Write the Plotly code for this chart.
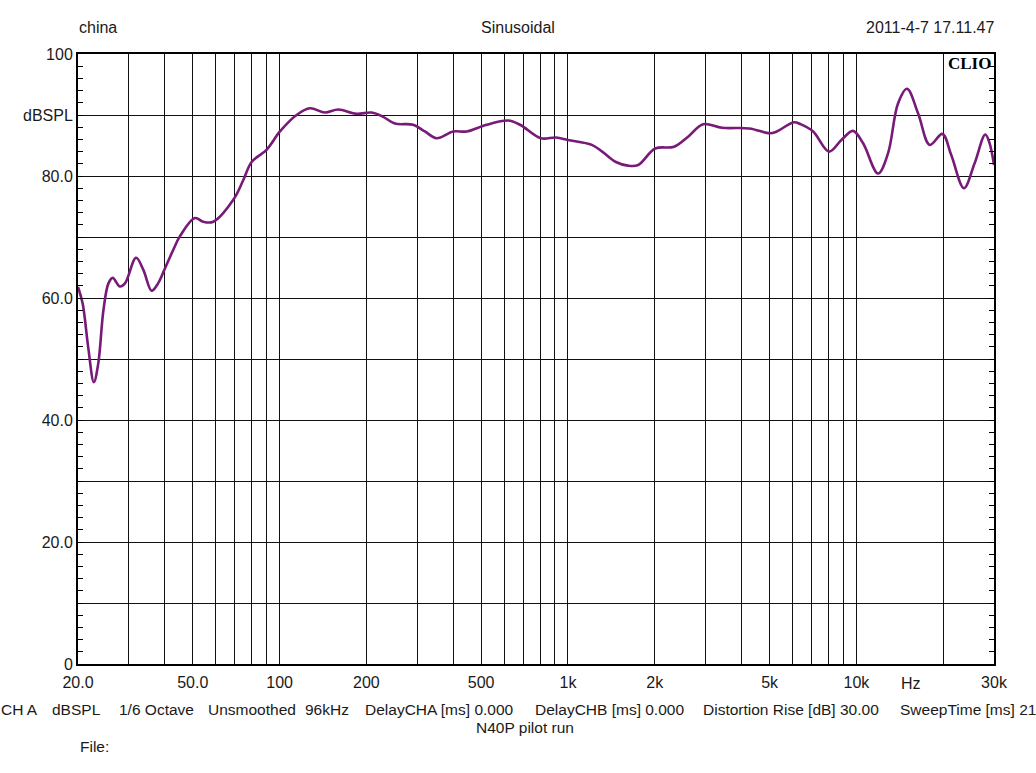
import numpy as np
import plotly.graph_objects as go

# ---- data ----
freq_hz = [20, 20.76, 21.7, 22.7, 23.5, 24.5, 25.5, 26.4, 27.9, 29.1, 31.8, 33.7, 36.0, 37.9,
           40, 42.8, 45.1, 50.9, 54.4, 58.9, 69.1, 74.8, 80.0, 90.1, 100.3, 114.5, 127.4,
           143.6, 159.7, 184.9, 208.5, 228.7, 251, 290.5, 319, 350, 400, 445, 522, 620,
           682, 804, 909, 1000, 1210, 1314, 1466, 1614, 1751, 2006, 2332, 2602, 2941,
           3421, 4256, 5012, 5297, 6070, 6400, 7080, 8040, 8870, 9730, 10540, 11890,
           12870, 13940, 14980, 16360, 17970, 19870, 21340, 23600, 25700, 27980, 28950, 30000]
spl_db = [61.8, 59.1, 51.9, 46.2, 49.2, 58.0, 62.4, 63.3, 61.9, 62.4, 66.6, 64.6, 61.2, 62.4,
          64.8, 67.9, 70.1, 73.1, 72.5, 72.5, 76.1, 79.3, 82.3, 84.3, 87.3, 90.0, 91.1,
          90.4, 90.9, 90.2, 90.4, 89.7, 88.6, 88.4, 87.3, 86.2, 87.3, 87.3, 88.4, 89.1,
          88.4, 86.2, 86.3, 85.9, 85.1, 84.0, 82.3, 81.7, 81.8, 84.5, 84.8, 86.4, 88.5,
          87.9, 87.8, 87.0, 87.3, 88.8, 88.5, 87.3, 84.0, 85.9, 87.4, 85.4, 80.4,
          83.7, 91.9, 94.3, 90.3, 85.1, 86.9, 83.4, 78.0, 82.1, 86.8, 85.4, 81.8]

x_grid = [20, 30, 40, 50, 60, 70, 80, 90, 100, 200, 300, 400, 500, 600, 700, 800, 900,
          1000, 2000, 3000, 4000, 5000, 6000, 7000, 8000, 9000, 10000, 20000, 30000]
x_labels = {20: "20.0", 50: "50.0", 100: "100", 200: "200", 500: "500", 1000: "1k",
            2000: "2k", 5000: "5k", 10000: "10k", 30000: "30k"}
y_grid = [0, 10, 20, 30, 40, 50, 60, 70, 80, 90, 100]
y_labels = {0: "0", 20: "20.0", 40: "40.0", 60: "60.0", 80: "80.0", 90: "dBSPL", 100: "100"}

info_items = ["CH A", "dBSPL", "1/6 Octave", "Unsmoothed", "96kHz", "DelayCHA [ms] 0.000",
              "DelayCHB [ms] 0.000", "Distortion Rise [dB] 30.00", "SweepTime [ms] 21"]
info_left_px = [-1, 50, 117, 206, 303, 363, 533, 701, 898]

# ---- layout geometry ----
W, H = 1036, 773
L, R, T, B = 78, 994, 54, 664
FONT = "Liberation Sans, Arial, sans-serif"
TXT = "#1a1a1a"

def px(xp):
    return (xp - L) / (R - L)

def py(yp):
    return (B - yp) / (B - T)

fig = go.Figure()
fig.add_trace(go.Scatter(x=freq_hz, y=spl_db, mode="lines",
                         line=dict(color="#781a78", width=2.6, shape="spline", smoothing=1.0),
                         hoverinfo="x+y", showlegend=False))

fig.update_layout(
    width=W, height=H,
    margin=dict(l=L, r=W - R, t=T, b=H - B),
    paper_bgcolor="white", plot_bgcolor="white",
    font=dict(family=FONT, size=16, color=TXT),
    xaxis=dict(type="log", range=[np.log10(20), np.log10(30000)],
               tickmode="array", tickvals=x_grid,
               ticktext=[x_labels.get(v, "") for v in x_grid],
               showgrid=True, gridcolor="#111111", gridwidth=1,
               showline=True, linecolor="black", linewidth=2, mirror=True,
               ticks="", ticklabelstandoff=3,
               tickfont=dict(size=16, color=TXT), zeroline=False),
    yaxis=dict(range=[0, 100], tickmode="array", tickvals=y_grid,
               ticktext=[y_labels.get(v, "") for v in y_grid],
               showgrid=True, gridcolor="#111111", gridwidth=1,
               showline=True, linecolor="black", linewidth=2, mirror="ticks",
               ticks="inside", ticklen=5, tickcolor="black", tickwidth=1,
               minor=dict(tickmode="linear", tick0=0, dtick=2, ticks="inside",
                          ticklen=5, tickcolor="black", tickwidth=1, showgrid=False),
               tickfont=dict(size=16, color=TXT), zeroline=False),
)

ann = []
def add(text, xp, yp, xanchor="left", size=16, family=FONT, color=TXT):
    ann.append(dict(text=text, x=px(xp), y=py(yp), xref="paper", yref="paper",
                    xanchor=xanchor, yanchor="middle", showarrow=False,
                    font=dict(family=family, size=size, color=color)))

add("china", 77, 27)
add("Sinusoidal", 518, 27, xanchor="center")
add("2011-4-7 17.11.47", 997, 27, xanchor="right")
add("<b>CLIO</b>", 993, 63, xanchor="right", size=17,
    family="Liberation Serif, Times New Roman, serif", color="black")
add("Hz", 911, 683, xanchor="center")
for t, xl in zip(info_items, info_left_px):
    add(t, xl, 709, size=15.5)
add("N40P pilot run", 525, 727, xanchor="center", size=15.5)
add("File:", 78, 746, size=15.5)

fig.update_layout(annotations=ann)
fig.write_html("out.html", config={"displayModeBar": False},
               post_script="document.body.style.margin='0';")
